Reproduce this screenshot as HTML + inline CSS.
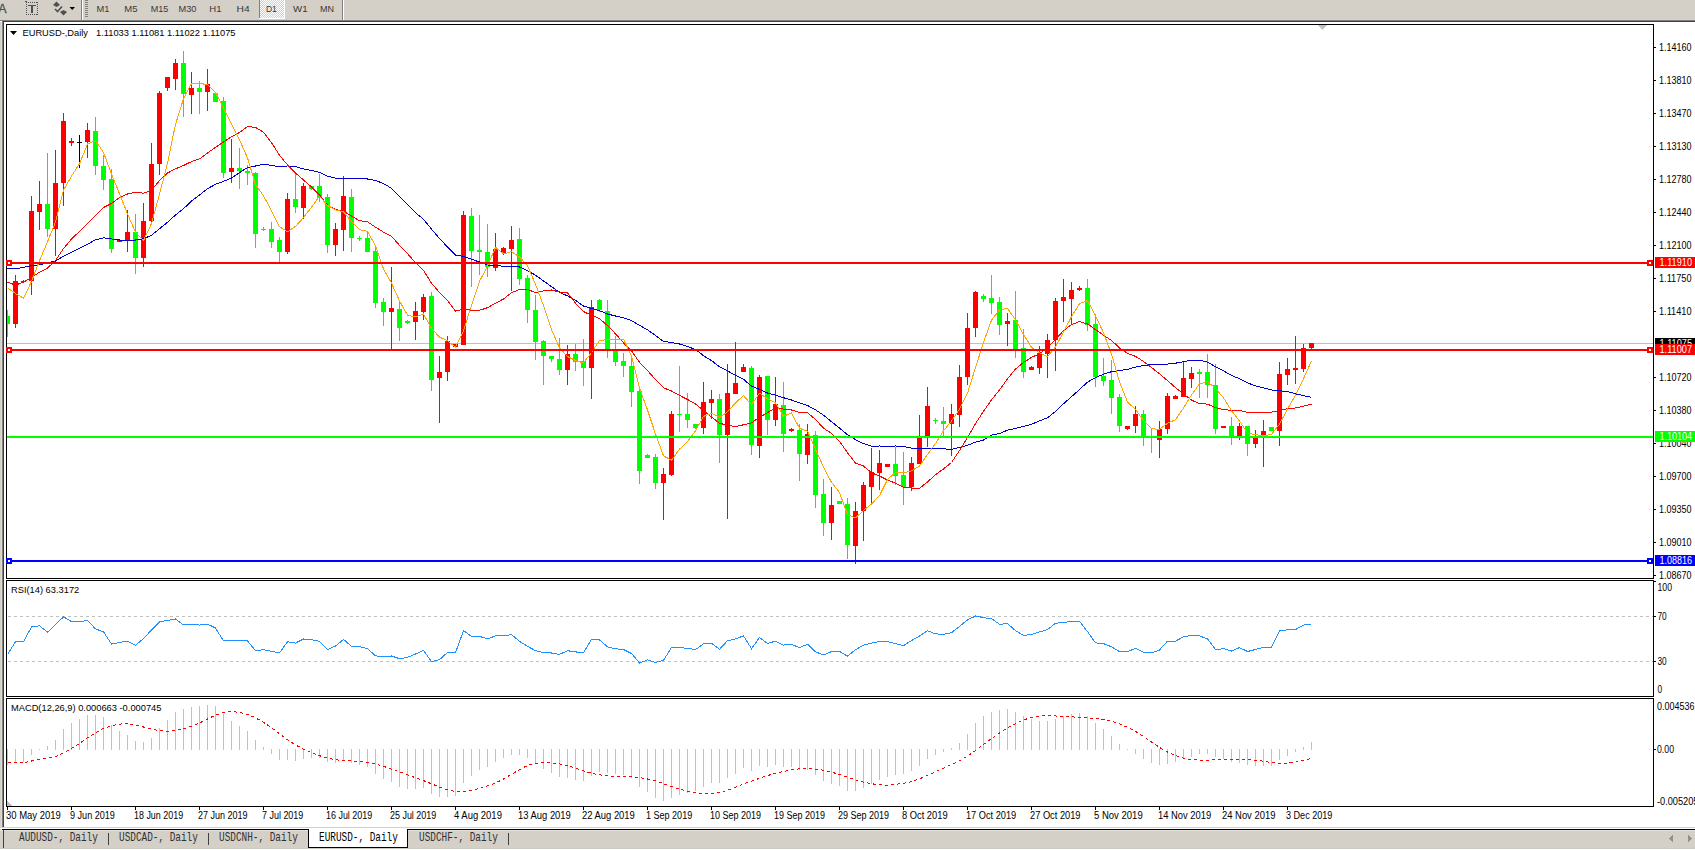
<!DOCTYPE html>
<html><head><meta charset="utf-8"><style>
html,body{margin:0;padding:0;background:#fff;}
#root{position:relative;width:1695px;height:850px;overflow:hidden;background:#fff;}
svg{position:absolute;left:0;top:0;}
text{font-family:"Liberation Sans",sans-serif;}
</style></head><body><div id="root">
<svg width="1695" height="850" viewBox="0 0 1695 850">
<g shape-rendering="crispEdges">
<rect x="0" y="0" width="1695" height="20" fill="#d4d0c8"/>
<rect x="0" y="20" width="1695" height="1" fill="#808080"/>
<rect x="0" y="21" width="1695" height="1" fill="#404040"/>
<rect x="0" y="21" width="2" height="1" fill="#ffffff"/>
<rect x="0" y="22" width="2" height="806" fill="#d4d0c8"/>
<rect x="1" y="22" width="1" height="806" fill="#dedad3"/>
<rect x="2" y="20" width="1" height="808" fill="#808080"/>
<rect x="3" y="21" width="1" height="807" fill="#404040"/>
<rect x="0" y="827" width="1695" height="1" fill="#d4d0c8"/>
<rect x="0" y="828" width="1695" height="1" fill="#ffffff"/>
<rect x="0" y="829" width="1695" height="1" fill="#000000"/>
<rect x="0" y="830" width="1695" height="18" fill="#d4d0c8"/>
<rect x="0" y="830" width="1695" height="1" fill="#e6e3de"/>
<rect x="0" y="848" width="1695" height="1" fill="#cdc9c2"/>
<rect x="0" y="849" width="1695" height="1" fill="#ffffff"/>
<rect x="1669" y="838" width="1" height="1" fill="#909090"/>
<rect x="1691" y="838" width="1" height="1" fill="#909090"/>
<rect x="1670" y="837" width="1" height="3" fill="#909090"/>
<rect x="1690" y="837" width="1" height="3" fill="#909090"/>
<rect x="1671" y="836" width="1" height="5" fill="#909090"/>
<rect x="1689" y="836" width="1" height="5" fill="#909090"/>
<rect x="1672" y="835" width="1" height="7" fill="#909090"/>
<rect x="1688" y="835" width="1" height="7" fill="#909090"/>
<rect x="3" y="830" width="1" height="18" fill="#404040"/>
<rect x="0" y="829" width="2" height="1" fill="#d4d0c8"/>
<rect x="308" y="829" width="100" height="19" fill="#000"/>
<rect x="309" y="829" width="98" height="18" fill="#fff"/>
<rect x="108" y="833" width="1" height="12" fill="#404040"/>
<rect x="208" y="833" width="1" height="12" fill="#404040"/>
<rect x="508" y="833" width="1" height="12" fill="#404040"/>
<rect x="6" y="24" width="1648" height="1" fill="#000"/>
<rect x="6" y="578" width="1648" height="1" fill="#000"/>
<rect x="6" y="24" width="1" height="555" fill="#000"/>
<rect x="1653" y="24" width="1" height="555" fill="#000"/>
<rect x="6" y="580" width="1648" height="1" fill="#000"/>
<rect x="6" y="696" width="1648" height="1" fill="#000"/>
<rect x="6" y="580" width="1" height="117" fill="#000"/>
<rect x="1653" y="580" width="1" height="117" fill="#000"/>
<rect x="6" y="698" width="1648" height="1" fill="#000"/>
<rect x="6" y="806" width="1648" height="1" fill="#000"/>
<rect x="6" y="698" width="1" height="109" fill="#000"/>
<rect x="1653" y="698" width="1" height="109" fill="#000"/>
</g>
<defs><clipPath id="cm"><rect x="7" y="25" width="1646" height="553"/></clipPath><clipPath id="cr"><rect x="7" y="581" width="1646" height="115"/></clipPath><clipPath id="cd"><rect x="7" y="699" width="1646" height="107"/></clipPath></defs>
<g clip-path="url(#cm)" shape-rendering="crispEdges">
<rect x="7" y="343" width="1646" height="1" fill="#c0c0c0"/>
<rect x="7" y="310" width="1" height="27" fill="#00ff00"/>
<rect x="5" y="316" width="5" height="8" fill="#00ff00"/>
<rect x="15" y="275" width="1" height="53" fill="#ff0000"/>
<rect x="13" y="281" width="5" height="43" fill="#ff0000"/>
<rect x="23" y="280" width="1" height="3" fill="#ff0000"/>
<rect x="21" y="281" width="5" height="1" fill="#ff0000"/>
<rect x="31" y="196" width="1" height="99" fill="#ff0000"/>
<rect x="29" y="211" width="5" height="70" fill="#ff0000"/>
<rect x="39" y="181" width="1" height="49" fill="#ff0000"/>
<rect x="37" y="204" width="5" height="8" fill="#ff0000"/>
<rect x="47" y="153" width="1" height="84" fill="#00ff00"/>
<rect x="45" y="204" width="5" height="25" fill="#00ff00"/>
<rect x="55" y="150" width="1" height="106" fill="#ff0000"/>
<rect x="53" y="183" width="5" height="46" fill="#ff0000"/>
<rect x="63" y="113" width="1" height="93" fill="#ff0000"/>
<rect x="61" y="121" width="5" height="62" fill="#ff0000"/>
<rect x="71" y="138" width="1" height="8" fill="#ff0000"/>
<rect x="69" y="141" width="5" height="2" fill="#ff0000"/>
<rect x="79" y="135" width="1" height="33" fill="#000000"/>
<rect x="77" y="142" width="5" height="1" fill="#000000"/>
<rect x="87" y="123" width="1" height="35" fill="#ff0000"/>
<rect x="85" y="130" width="5" height="12" fill="#ff0000"/>
<rect x="95" y="117" width="1" height="58" fill="#00ff00"/>
<rect x="93" y="131" width="5" height="35" fill="#00ff00"/>
<rect x="103" y="155" width="1" height="35" fill="#00ff00"/>
<rect x="101" y="166" width="5" height="14" fill="#00ff00"/>
<rect x="111" y="169" width="1" height="84" fill="#00ff00"/>
<rect x="109" y="179" width="5" height="70" fill="#00ff00"/>
<rect x="119" y="240" width="1" height="2" fill="#ff0000"/>
<rect x="117" y="240" width="5" height="2" fill="#ff0000"/>
<rect x="127" y="210" width="1" height="42" fill="#ff0000"/>
<rect x="125" y="232" width="5" height="8" fill="#ff0000"/>
<rect x="135" y="214" width="1" height="60" fill="#00ff00"/>
<rect x="133" y="232" width="5" height="26" fill="#00ff00"/>
<rect x="143" y="203" width="1" height="64" fill="#ff0000"/>
<rect x="141" y="221" width="5" height="37" fill="#ff0000"/>
<rect x="151" y="143" width="1" height="79" fill="#ff0000"/>
<rect x="149" y="164" width="5" height="57" fill="#ff0000"/>
<rect x="159" y="91" width="1" height="84" fill="#ff0000"/>
<rect x="157" y="93" width="5" height="71" fill="#ff0000"/>
<rect x="167" y="77" width="1" height="14" fill="#ff0000"/>
<rect x="165" y="77" width="5" height="11" fill="#ff0000"/>
<rect x="175" y="59" width="1" height="31" fill="#ff0000"/>
<rect x="173" y="63" width="5" height="16" fill="#ff0000"/>
<rect x="183" y="51" width="1" height="66" fill="#00ff00"/>
<rect x="181" y="63" width="5" height="31" fill="#00ff00"/>
<rect x="191" y="72" width="1" height="42" fill="#ff0000"/>
<rect x="189" y="88" width="5" height="7" fill="#ff0000"/>
<rect x="199" y="81" width="1" height="33" fill="#00ff00"/>
<rect x="197" y="88" width="5" height="4" fill="#00ff00"/>
<rect x="207" y="69" width="1" height="42" fill="#ff0000"/>
<rect x="205" y="84" width="5" height="8" fill="#ff0000"/>
<rect x="215" y="92" width="1" height="10" fill="#00ff00"/>
<rect x="213" y="93" width="5" height="9" fill="#00ff00"/>
<rect x="223" y="97" width="1" height="81" fill="#00ff00"/>
<rect x="221" y="101" width="5" height="72" fill="#00ff00"/>
<rect x="231" y="139" width="1" height="44" fill="#ff0000"/>
<rect x="229" y="168" width="5" height="4" fill="#ff0000"/>
<rect x="239" y="148" width="1" height="41" fill="#00ff00"/>
<rect x="237" y="168" width="5" height="3" fill="#00ff00"/>
<rect x="247" y="165" width="1" height="20" fill="#00ff00"/>
<rect x="245" y="171" width="5" height="2" fill="#00ff00"/>
<rect x="255" y="172" width="1" height="76" fill="#00ff00"/>
<rect x="253" y="173" width="5" height="61" fill="#00ff00"/>
<rect x="263" y="227" width="1" height="4" fill="#00ff00"/>
<rect x="261" y="229" width="5" height="1" fill="#00ff00"/>
<rect x="271" y="222" width="1" height="26" fill="#00ff00"/>
<rect x="269" y="229" width="5" height="13" fill="#00ff00"/>
<rect x="279" y="237" width="1" height="25" fill="#00ff00"/>
<rect x="277" y="240" width="5" height="12" fill="#00ff00"/>
<rect x="287" y="193" width="1" height="61" fill="#ff0000"/>
<rect x="285" y="199" width="5" height="53" fill="#ff0000"/>
<rect x="295" y="173" width="1" height="40" fill="#00ff00"/>
<rect x="293" y="199" width="5" height="8" fill="#00ff00"/>
<rect x="303" y="183" width="1" height="36" fill="#ff0000"/>
<rect x="301" y="186" width="5" height="22" fill="#ff0000"/>
<rect x="311" y="186" width="1" height="4" fill="#00ff00"/>
<rect x="309" y="186" width="5" height="3" fill="#00ff00"/>
<rect x="319" y="174" width="1" height="28" fill="#00ff00"/>
<rect x="317" y="186" width="5" height="12" fill="#00ff00"/>
<rect x="327" y="194" width="1" height="59" fill="#00ff00"/>
<rect x="325" y="197" width="5" height="48" fill="#00ff00"/>
<rect x="335" y="223" width="1" height="33" fill="#ff0000"/>
<rect x="333" y="229" width="5" height="16" fill="#ff0000"/>
<rect x="343" y="176" width="1" height="75" fill="#ff0000"/>
<rect x="341" y="196" width="5" height="34" fill="#ff0000"/>
<rect x="351" y="189" width="1" height="63" fill="#00ff00"/>
<rect x="349" y="197" width="5" height="41" fill="#00ff00"/>
<rect x="359" y="236" width="1" height="5" fill="#00ff00"/>
<rect x="357" y="238" width="5" height="1" fill="#00ff00"/>
<rect x="367" y="231" width="1" height="21" fill="#00ff00"/>
<rect x="365" y="238" width="5" height="14" fill="#00ff00"/>
<rect x="375" y="247" width="1" height="61" fill="#00ff00"/>
<rect x="373" y="251" width="5" height="52" fill="#00ff00"/>
<rect x="383" y="298" width="1" height="28" fill="#00ff00"/>
<rect x="381" y="302" width="5" height="10" fill="#00ff00"/>
<rect x="391" y="267" width="1" height="83" fill="#ff0000"/>
<rect x="389" y="308" width="5" height="4" fill="#ff0000"/>
<rect x="399" y="302" width="1" height="39" fill="#00ff00"/>
<rect x="397" y="309" width="5" height="19" fill="#00ff00"/>
<rect x="407" y="320" width="1" height="4" fill="#00ff00"/>
<rect x="405" y="321" width="5" height="2" fill="#00ff00"/>
<rect x="415" y="302" width="1" height="38" fill="#ff0000"/>
<rect x="413" y="311" width="5" height="11" fill="#ff0000"/>
<rect x="423" y="294" width="1" height="26" fill="#ff0000"/>
<rect x="421" y="297" width="5" height="15" fill="#ff0000"/>
<rect x="431" y="292" width="1" height="99" fill="#00ff00"/>
<rect x="429" y="296" width="5" height="84" fill="#00ff00"/>
<rect x="439" y="356" width="1" height="67" fill="#ff0000"/>
<rect x="437" y="372" width="5" height="6" fill="#ff0000"/>
<rect x="447" y="336" width="1" height="45" fill="#ff0000"/>
<rect x="445" y="341" width="5" height="31" fill="#ff0000"/>
<rect x="455" y="344" width="1" height="3" fill="#ff0000"/>
<rect x="453" y="344" width="5" height="3" fill="#ff0000"/>
<rect x="463" y="211" width="1" height="134" fill="#ff0000"/>
<rect x="461" y="215" width="5" height="130" fill="#ff0000"/>
<rect x="471" y="208" width="1" height="79" fill="#00ff00"/>
<rect x="469" y="216" width="5" height="35" fill="#00ff00"/>
<rect x="479" y="215" width="1" height="60" fill="#00ff00"/>
<rect x="477" y="250" width="5" height="2" fill="#00ff00"/>
<rect x="487" y="224" width="1" height="53" fill="#00ff00"/>
<rect x="485" y="252" width="5" height="15" fill="#00ff00"/>
<rect x="495" y="233" width="1" height="38" fill="#ff0000"/>
<rect x="493" y="249" width="5" height="19" fill="#ff0000"/>
<rect x="503" y="247" width="1" height="8" fill="#ff0000"/>
<rect x="501" y="248" width="5" height="5" fill="#ff0000"/>
<rect x="511" y="226" width="1" height="65" fill="#ff0000"/>
<rect x="509" y="240" width="5" height="9" fill="#ff0000"/>
<rect x="519" y="228" width="1" height="57" fill="#00ff00"/>
<rect x="517" y="239" width="5" height="40" fill="#00ff00"/>
<rect x="527" y="275" width="1" height="48" fill="#00ff00"/>
<rect x="525" y="278" width="5" height="32" fill="#00ff00"/>
<rect x="535" y="295" width="1" height="65" fill="#00ff00"/>
<rect x="533" y="310" width="5" height="32" fill="#00ff00"/>
<rect x="543" y="340" width="1" height="45" fill="#00ff00"/>
<rect x="541" y="341" width="5" height="15" fill="#00ff00"/>
<rect x="551" y="356" width="1" height="6" fill="#00ff00"/>
<rect x="549" y="356" width="5" height="3" fill="#00ff00"/>
<rect x="559" y="338" width="1" height="37" fill="#00ff00"/>
<rect x="557" y="359" width="5" height="11" fill="#00ff00"/>
<rect x="567" y="345" width="1" height="40" fill="#ff0000"/>
<rect x="565" y="354" width="5" height="16" fill="#ff0000"/>
<rect x="575" y="344" width="1" height="27" fill="#00ff00"/>
<rect x="573" y="354" width="5" height="8" fill="#00ff00"/>
<rect x="583" y="339" width="1" height="47" fill="#00ff00"/>
<rect x="581" y="361" width="5" height="7" fill="#00ff00"/>
<rect x="591" y="300" width="1" height="99" fill="#ff0000"/>
<rect x="589" y="307" width="5" height="61" fill="#ff0000"/>
<rect x="599" y="299" width="1" height="13" fill="#00ff00"/>
<rect x="597" y="300" width="5" height="10" fill="#00ff00"/>
<rect x="607" y="300" width="1" height="58" fill="#00ff00"/>
<rect x="605" y="311" width="5" height="38" fill="#00ff00"/>
<rect x="615" y="336" width="1" height="30" fill="#00ff00"/>
<rect x="613" y="350" width="5" height="12" fill="#00ff00"/>
<rect x="623" y="353" width="1" height="24" fill="#00ff00"/>
<rect x="621" y="361" width="5" height="5" fill="#00ff00"/>
<rect x="631" y="357" width="1" height="50" fill="#00ff00"/>
<rect x="629" y="366" width="5" height="26" fill="#00ff00"/>
<rect x="639" y="390" width="1" height="94" fill="#00ff00"/>
<rect x="637" y="391" width="5" height="80" fill="#00ff00"/>
<rect x="647" y="454" width="1" height="4" fill="#00ff00"/>
<rect x="645" y="455" width="5" height="3" fill="#00ff00"/>
<rect x="655" y="454" width="1" height="35" fill="#00ff00"/>
<rect x="653" y="457" width="5" height="26" fill="#00ff00"/>
<rect x="663" y="468" width="1" height="52" fill="#ff0000"/>
<rect x="661" y="474" width="5" height="9" fill="#ff0000"/>
<rect x="671" y="411" width="1" height="65" fill="#ff0000"/>
<rect x="669" y="414" width="5" height="61" fill="#ff0000"/>
<rect x="679" y="366" width="1" height="66" fill="#00ff00"/>
<rect x="677" y="414" width="5" height="1" fill="#00ff00"/>
<rect x="687" y="393" width="1" height="35" fill="#00ff00"/>
<rect x="685" y="414" width="5" height="6" fill="#00ff00"/>
<rect x="695" y="424" width="1" height="5" fill="#00ff00"/>
<rect x="693" y="424" width="5" height="4" fill="#00ff00"/>
<rect x="703" y="382" width="1" height="52" fill="#ff0000"/>
<rect x="701" y="402" width="5" height="26" fill="#ff0000"/>
<rect x="711" y="390" width="1" height="29" fill="#ff0000"/>
<rect x="709" y="399" width="5" height="4" fill="#ff0000"/>
<rect x="719" y="394" width="1" height="69" fill="#00ff00"/>
<rect x="717" y="399" width="5" height="36" fill="#00ff00"/>
<rect x="727" y="364" width="1" height="155" fill="#ff0000"/>
<rect x="725" y="393" width="5" height="42" fill="#ff0000"/>
<rect x="735" y="342" width="1" height="52" fill="#ff0000"/>
<rect x="733" y="383" width="5" height="11" fill="#ff0000"/>
<rect x="743" y="364" width="1" height="8" fill="#ff0000"/>
<rect x="741" y="367" width="5" height="5" fill="#ff0000"/>
<rect x="751" y="366" width="1" height="89" fill="#00ff00"/>
<rect x="749" y="368" width="5" height="77" fill="#00ff00"/>
<rect x="759" y="375" width="1" height="83" fill="#ff0000"/>
<rect x="757" y="377" width="5" height="69" fill="#ff0000"/>
<rect x="767" y="376" width="1" height="59" fill="#00ff00"/>
<rect x="765" y="376" width="5" height="44" fill="#00ff00"/>
<rect x="775" y="377" width="1" height="49" fill="#ff0000"/>
<rect x="773" y="404" width="5" height="16" fill="#ff0000"/>
<rect x="783" y="382" width="1" height="70" fill="#00ff00"/>
<rect x="781" y="405" width="5" height="29" fill="#00ff00"/>
<rect x="791" y="428" width="1" height="4" fill="#ff0000"/>
<rect x="789" y="429" width="5" height="2" fill="#ff0000"/>
<rect x="799" y="424" width="1" height="57" fill="#00ff00"/>
<rect x="797" y="430" width="5" height="24" fill="#00ff00"/>
<rect x="807" y="424" width="1" height="40" fill="#ff0000"/>
<rect x="805" y="434" width="5" height="21" fill="#ff0000"/>
<rect x="815" y="431" width="1" height="77" fill="#00ff00"/>
<rect x="813" y="435" width="5" height="60" fill="#00ff00"/>
<rect x="823" y="479" width="1" height="57" fill="#00ff00"/>
<rect x="821" y="494" width="5" height="29" fill="#00ff00"/>
<rect x="831" y="487" width="1" height="53" fill="#ff0000"/>
<rect x="829" y="505" width="5" height="18" fill="#ff0000"/>
<rect x="839" y="501" width="1" height="3" fill="#00ff00"/>
<rect x="837" y="501" width="5" height="3" fill="#00ff00"/>
<rect x="847" y="498" width="1" height="61" fill="#00ff00"/>
<rect x="845" y="504" width="5" height="41" fill="#00ff00"/>
<rect x="855" y="502" width="1" height="62" fill="#ff0000"/>
<rect x="853" y="511" width="5" height="35" fill="#ff0000"/>
<rect x="863" y="482" width="1" height="59" fill="#ff0000"/>
<rect x="861" y="485" width="5" height="26" fill="#ff0000"/>
<rect x="871" y="448" width="1" height="57" fill="#ff0000"/>
<rect x="869" y="472" width="5" height="15" fill="#ff0000"/>
<rect x="879" y="450" width="1" height="40" fill="#ff0000"/>
<rect x="877" y="463" width="5" height="10" fill="#ff0000"/>
<rect x="887" y="464" width="1" height="3" fill="#ff0000"/>
<rect x="885" y="464" width="5" height="3" fill="#ff0000"/>
<rect x="895" y="447" width="1" height="38" fill="#00ff00"/>
<rect x="893" y="464" width="5" height="12" fill="#00ff00"/>
<rect x="903" y="452" width="1" height="53" fill="#00ff00"/>
<rect x="901" y="475" width="5" height="12" fill="#00ff00"/>
<rect x="911" y="457" width="1" height="34" fill="#ff0000"/>
<rect x="909" y="463" width="5" height="24" fill="#ff0000"/>
<rect x="919" y="415" width="1" height="49" fill="#ff0000"/>
<rect x="917" y="438" width="5" height="26" fill="#ff0000"/>
<rect x="927" y="387" width="1" height="60" fill="#ff0000"/>
<rect x="925" y="406" width="5" height="30" fill="#ff0000"/>
<rect x="935" y="418" width="1" height="6" fill="#00ff00"/>
<rect x="933" y="420" width="5" height="1" fill="#00ff00"/>
<rect x="943" y="407" width="1" height="29" fill="#00ff00"/>
<rect x="941" y="421" width="5" height="3" fill="#00ff00"/>
<rect x="951" y="404" width="1" height="52" fill="#ff0000"/>
<rect x="949" y="414" width="5" height="10" fill="#ff0000"/>
<rect x="959" y="365" width="1" height="62" fill="#ff0000"/>
<rect x="957" y="377" width="5" height="38" fill="#ff0000"/>
<rect x="967" y="313" width="1" height="72" fill="#ff0000"/>
<rect x="965" y="328" width="5" height="49" fill="#ff0000"/>
<rect x="975" y="291" width="1" height="46" fill="#ff0000"/>
<rect x="973" y="292" width="5" height="36" fill="#ff0000"/>
<rect x="983" y="294" width="1" height="8" fill="#00ff00"/>
<rect x="981" y="296" width="5" height="3" fill="#00ff00"/>
<rect x="991" y="275" width="1" height="39" fill="#00ff00"/>
<rect x="989" y="298" width="5" height="5" fill="#00ff00"/>
<rect x="999" y="297" width="1" height="38" fill="#00ff00"/>
<rect x="997" y="302" width="5" height="23" fill="#00ff00"/>
<rect x="1007" y="313" width="1" height="33" fill="#ff0000"/>
<rect x="1005" y="321" width="5" height="3" fill="#ff0000"/>
<rect x="1015" y="291" width="1" height="67" fill="#00ff00"/>
<rect x="1013" y="320" width="5" height="29" fill="#00ff00"/>
<rect x="1023" y="329" width="1" height="49" fill="#00ff00"/>
<rect x="1021" y="348" width="5" height="24" fill="#00ff00"/>
<rect x="1031" y="366" width="1" height="4" fill="#ff0000"/>
<rect x="1029" y="367" width="5" height="3" fill="#ff0000"/>
<rect x="1039" y="346" width="1" height="28" fill="#ff0000"/>
<rect x="1037" y="353" width="5" height="15" fill="#ff0000"/>
<rect x="1047" y="334" width="1" height="44" fill="#ff0000"/>
<rect x="1045" y="340" width="5" height="14" fill="#ff0000"/>
<rect x="1055" y="298" width="1" height="73" fill="#ff0000"/>
<rect x="1053" y="301" width="5" height="39" fill="#ff0000"/>
<rect x="1063" y="279" width="1" height="43" fill="#ff0000"/>
<rect x="1061" y="297" width="5" height="4" fill="#ff0000"/>
<rect x="1071" y="282" width="1" height="43" fill="#ff0000"/>
<rect x="1069" y="290" width="5" height="9" fill="#ff0000"/>
<rect x="1079" y="286" width="1" height="5" fill="#ff0000"/>
<rect x="1077" y="288" width="5" height="2" fill="#ff0000"/>
<rect x="1087" y="279" width="1" height="52" fill="#00ff00"/>
<rect x="1085" y="288" width="5" height="37" fill="#00ff00"/>
<rect x="1095" y="314" width="1" height="73" fill="#00ff00"/>
<rect x="1093" y="324" width="5" height="53" fill="#00ff00"/>
<rect x="1103" y="358" width="1" height="28" fill="#00ff00"/>
<rect x="1101" y="376" width="5" height="5" fill="#00ff00"/>
<rect x="1111" y="360" width="1" height="54" fill="#00ff00"/>
<rect x="1109" y="380" width="5" height="18" fill="#00ff00"/>
<rect x="1119" y="394" width="1" height="38" fill="#00ff00"/>
<rect x="1117" y="397" width="5" height="29" fill="#00ff00"/>
<rect x="1127" y="426" width="1" height="4" fill="#ff0000"/>
<rect x="1125" y="426" width="5" height="3" fill="#ff0000"/>
<rect x="1135" y="406" width="1" height="27" fill="#ff0000"/>
<rect x="1133" y="414" width="5" height="12" fill="#ff0000"/>
<rect x="1143" y="410" width="1" height="36" fill="#00ff00"/>
<rect x="1141" y="414" width="5" height="22" fill="#00ff00"/>
<rect x="1151" y="428" width="1" height="25" fill="#00ff00"/>
<rect x="1149" y="436" width="5" height="2" fill="#00ff00"/>
<rect x="1159" y="421" width="1" height="37" fill="#ff0000"/>
<rect x="1157" y="429" width="5" height="11" fill="#ff0000"/>
<rect x="1167" y="393" width="1" height="41" fill="#ff0000"/>
<rect x="1165" y="396" width="5" height="33" fill="#ff0000"/>
<rect x="1175" y="395" width="1" height="4" fill="#ff0000"/>
<rect x="1173" y="396" width="5" height="3" fill="#ff0000"/>
<rect x="1183" y="362" width="1" height="35" fill="#ff0000"/>
<rect x="1181" y="378" width="5" height="19" fill="#ff0000"/>
<rect x="1191" y="367" width="1" height="21" fill="#ff0000"/>
<rect x="1189" y="373" width="5" height="6" fill="#ff0000"/>
<rect x="1199" y="369" width="1" height="29" fill="#00ff00"/>
<rect x="1197" y="372" width="5" height="2" fill="#00ff00"/>
<rect x="1207" y="354" width="1" height="44" fill="#00ff00"/>
<rect x="1205" y="372" width="5" height="13" fill="#00ff00"/>
<rect x="1215" y="364" width="1" height="70" fill="#00ff00"/>
<rect x="1213" y="385" width="5" height="44" fill="#00ff00"/>
<rect x="1223" y="426" width="1" height="2" fill="#ff0000"/>
<rect x="1221" y="426" width="5" height="2" fill="#ff0000"/>
<rect x="1231" y="417" width="1" height="28" fill="#00ff00"/>
<rect x="1229" y="426" width="5" height="11" fill="#00ff00"/>
<rect x="1239" y="423" width="1" height="17" fill="#ff0000"/>
<rect x="1237" y="426" width="5" height="10" fill="#ff0000"/>
<rect x="1247" y="426" width="1" height="30" fill="#00ff00"/>
<rect x="1245" y="426" width="5" height="18" fill="#00ff00"/>
<rect x="1255" y="430" width="1" height="18" fill="#ff0000"/>
<rect x="1253" y="438" width="5" height="6" fill="#ff0000"/>
<rect x="1263" y="420" width="1" height="47" fill="#ff0000"/>
<rect x="1261" y="431" width="5" height="4" fill="#ff0000"/>
<rect x="1271" y="427" width="1" height="4" fill="#00ff00"/>
<rect x="1269" y="427" width="5" height="4" fill="#00ff00"/>
<rect x="1279" y="362" width="1" height="84" fill="#ff0000"/>
<rect x="1277" y="374" width="5" height="57" fill="#ff0000"/>
<rect x="1287" y="358" width="1" height="27" fill="#ff0000"/>
<rect x="1285" y="369" width="5" height="6" fill="#ff0000"/>
<rect x="1295" y="336" width="1" height="48" fill="#ff0000"/>
<rect x="1293" y="368" width="5" height="2" fill="#ff0000"/>
<rect x="1303" y="344" width="1" height="28" fill="#ff0000"/>
<rect x="1301" y="348" width="5" height="21" fill="#ff0000"/>
<rect x="1311" y="343" width="1" height="6" fill="#ff0000"/>
<rect x="1309" y="343" width="5" height="5" fill="#ff0000"/>
</g>
<g clip-path="url(#cm)" fill="none" stroke-width="1" shape-rendering="crispEdges">
<polyline points="7.5,269.0 15.5,268.8 23.5,267.4 31.5,265.7 39.5,264.7 47.5,263.0 55.5,261.0 63.5,256.1 71.5,252.2 79.5,248.2 87.5,244.2 95.5,239.8 103.5,237.8 111.5,238.9 119.5,240.0 127.5,240.0 135.5,240.0 143.5,238.7 151.5,235.3 159.5,228.7 167.5,222.3 175.5,215.0 183.5,208.7 191.5,201.1 199.5,195.0 207.5,188.7 215.5,184.3 223.5,181.3 231.5,178.1 239.5,172.6 247.5,167.6 255.5,166.0 263.5,164.3 271.5,165.3 279.5,166.9 287.5,165.9 295.5,166.7 303.5,168.9 311.5,170.5 319.5,172.3 327.5,176.2 335.5,178.2 343.5,178.8 351.5,178.4 359.5,178.4 367.5,179.0 375.5,180.5 383.5,183.5 391.5,188.3 399.5,196.2 407.5,204.4 415.5,212.6 423.5,219.4 431.5,229.1 439.5,238.5 447.5,247.0 455.5,255.1 463.5,256.5 471.5,259.3 479.5,262.0 487.5,265.1 495.5,265.6 503.5,266.2 511.5,266.1 519.5,267.0 527.5,270.7 535.5,275.2 543.5,280.9 551.5,286.6 559.5,292.3 567.5,295.9 575.5,300.3 583.5,306.1 591.5,308.4 599.5,310.7 607.5,314.0 615.5,316.0 623.5,317.8 631.5,320.6 639.5,325.3 647.5,329.8 655.5,335.5 663.5,341.4 671.5,342.5 679.5,344.0 687.5,346.6 695.5,349.4 703.5,355.7 711.5,360.6 719.5,366.7 727.5,370.9 735.5,375.3 743.5,379.3 751.5,386.1 759.5,389.4 767.5,393.0 775.5,395.1 783.5,397.7 791.5,400.0 799.5,402.8 807.5,405.5 815.5,409.9 823.5,415.1 831.5,421.7 839.5,428.1 847.5,434.7 855.5,439.6 863.5,443.6 871.5,446.3 879.5,446.0 887.5,446.2 895.5,446.0 903.5,446.4 911.5,448.1 919.5,448.8 927.5,448.4 935.5,448.1 943.5,448.8 951.5,449.4 959.5,447.4 967.5,445.3 975.5,442.2 983.5,440.0 991.5,435.2 999.5,433.5 1007.5,430.2 1015.5,428.4 1023.5,426.4 1031.5,424.3 1039.5,420.9 1047.5,417.8 1055.5,411.4 1063.5,403.8 1071.5,396.7 1079.5,389.5 1087.5,382.1 1095.5,377.7 1103.5,374.2 1111.5,371.7 1119.5,370.5 1127.5,369.3 1135.5,367.2 1143.5,365.5 1151.5,364.7 1159.5,364.4 1167.5,364.1 1175.5,363.2 1183.5,361.7 1191.5,360.3 1199.5,360.2 1207.5,362.1 1215.5,366.7 1223.5,370.9 1231.5,375.4 1239.5,378.8 1247.5,382.9 1255.5,385.8 1263.5,387.8 1271.5,390.0 1279.5,390.7 1287.5,391.6 1295.5,393.8 1303.5,395.6 1311.5,397.3" stroke="#0000cd"/>
<polyline points="7.5,282.0 15.5,285.2 23.5,282.0 31.5,277.5 39.5,272.1 47.5,268.1 55.5,260.5 63.5,248.6 71.5,238.9 79.5,231.4 87.5,223.4 95.5,215.4 103.5,207.5 111.5,203.5 119.5,197.5 127.5,194.0 135.5,192.4 143.5,193.1 151.5,190.3 159.5,180.6 167.5,173.0 175.5,168.9 183.5,165.5 191.5,161.6 199.5,158.9 207.5,153.0 215.5,147.4 223.5,142.0 231.5,136.8 239.5,132.5 247.5,126.5 255.5,127.4 263.5,132.1 271.5,142.7 279.5,155.2 287.5,164.9 295.5,173.0 303.5,180.0 311.5,186.9 319.5,195.0 327.5,205.2 335.5,209.3 343.5,211.3 351.5,216.0 359.5,220.7 367.5,221.9 375.5,227.1 383.5,232.1 391.5,236.2 399.5,245.4 407.5,253.7 415.5,262.6 423.5,270.3 431.5,283.3 439.5,292.4 447.5,300.4 455.5,311.0 463.5,309.4 471.5,310.2 479.5,310.3 487.5,307.7 495.5,303.2 503.5,299.0 511.5,292.7 519.5,289.5 527.5,289.4 535.5,292.6 543.5,290.9 551.5,290.0 559.5,292.0 567.5,292.7 575.5,303.2 583.5,311.5 591.5,315.4 599.5,318.5 607.5,325.7 615.5,333.8 623.5,342.8 631.5,350.8 639.5,362.3 647.5,370.6 655.5,379.6 663.5,387.8 671.5,391.0 679.5,395.4 687.5,399.5 695.5,403.9 703.5,410.7 711.5,417.0 719.5,423.2 727.5,425.4 735.5,426.6 743.5,424.8 751.5,423.0 759.5,417.2 767.5,412.7 775.5,407.7 783.5,409.1 791.5,410.0 799.5,412.4 807.5,412.8 815.5,419.4 823.5,428.2 831.5,433.3 839.5,441.2 847.5,452.8 855.5,463.1 863.5,466.0 871.5,472.8 879.5,475.9 887.5,480.1 895.5,483.2 903.5,487.4 911.5,488.0 919.5,488.3 927.5,482.0 935.5,474.7 943.5,468.9 951.5,462.5 959.5,450.5 967.5,437.5 975.5,423.7 983.5,411.3 991.5,399.9 999.5,389.9 1007.5,378.9 1015.5,369.0 1023.5,362.5 1031.5,357.4 1039.5,353.7 1047.5,347.9 1055.5,339.1 1063.5,330.7 1071.5,324.5 1079.5,321.6 1087.5,324.0 1095.5,329.6 1103.5,335.2 1111.5,340.4 1119.5,347.9 1127.5,353.4 1135.5,356.4 1143.5,361.4 1151.5,367.5 1159.5,373.8 1167.5,380.6 1175.5,387.7 1183.5,394.0 1191.5,400.1 1199.5,403.6 1207.5,404.1 1215.5,407.6 1223.5,409.6 1231.5,410.4 1239.5,410.4 1247.5,412.5 1255.5,412.6 1263.5,412.1 1271.5,412.2 1279.5,410.6 1287.5,408.7 1295.5,408.0 1303.5,406.2 1311.5,404.0" stroke="#ff0000"/>
<polyline points="7.5,287.8 15.5,293.5 23.5,298.1 31.5,281.5 39.5,260.7 47.5,241.7 55.5,222.1 63.5,190.1 71.5,176.1 79.5,163.8 87.5,144.0 95.5,140.7 103.5,152.5 111.5,174.0 119.5,193.6 127.5,213.9 135.5,232.2 143.5,240.5 151.5,223.5 159.5,194.2 167.5,163.2 175.5,124.3 183.5,98.8 191.5,83.5 199.5,83.3 207.5,84.7 215.5,92.4 223.5,108.2 231.5,124.2 239.5,140.0 247.5,157.8 255.5,184.4 263.5,195.9 271.5,210.6 279.5,226.7 287.5,231.8 295.5,226.4 303.5,217.6 311.5,207.1 319.5,196.3 327.5,205.4 335.5,209.8 343.5,211.8 351.5,221.5 359.5,229.8 367.5,231.2 375.5,245.9 383.5,269.0 391.5,283.1 399.5,300.9 407.5,315.2 415.5,316.9 423.5,314.0 431.5,328.3 439.5,337.1 447.5,340.7 455.5,347.3 463.5,330.9 471.5,305.2 479.5,281.2 487.5,266.3 495.5,247.3 503.5,253.9 511.5,251.7 519.5,257.0 527.5,265.6 535.5,284.2 543.5,305.7 551.5,329.6 559.5,347.8 567.5,356.5 575.5,360.5 583.5,362.9 591.5,352.5 599.5,340.5 607.5,339.6 615.5,339.6 623.5,339.2 631.5,356.1 639.5,388.2 647.5,409.9 655.5,434.1 663.5,455.8 671.5,460.3 679.5,449.2 687.5,441.6 695.5,430.8 703.5,416.4 711.5,413.4 719.5,417.3 727.5,411.9 735.5,402.8 743.5,395.7 751.5,404.8 759.5,393.2 767.5,398.6 775.5,402.8 783.5,416.2 791.5,413.0 799.5,428.3 807.5,431.1 815.5,449.3 823.5,467.1 831.5,482.4 839.5,492.4 847.5,514.7 855.5,517.9 863.5,510.5 871.5,503.9 879.5,495.7 887.5,479.4 895.5,472.4 903.5,472.8 911.5,470.9 919.5,466.0 927.5,454.5 935.5,443.5 943.5,430.8 951.5,421.1 959.5,408.9 967.5,393.3 975.5,367.5 983.5,342.5 991.5,320.2 999.5,309.8 1007.5,308.4 1015.5,319.8 1023.5,334.5 1031.5,347.2 1039.5,352.9 1047.5,356.7 1055.5,347.1 1063.5,332.0 1071.5,316.7 1079.5,303.7 1087.5,300.6 1095.5,315.8 1103.5,332.7 1111.5,354.2 1119.5,381.8 1127.5,402.1 1135.5,409.4 1143.5,420.6 1151.5,428.7 1159.5,429.4 1167.5,423.3 1175.5,419.7 1183.5,408.0 1191.5,394.9 1199.5,383.9 1207.5,381.7 1215.5,388.3 1223.5,397.9 1231.5,410.7 1239.5,421.1 1247.5,432.9 1255.5,434.7 1263.5,435.7 1271.5,434.5 1279.5,424.1 1287.5,409.1 1295.5,395.2 1303.5,378.6 1311.5,361.0" stroke="#ffa500"/>
</g>
<g clip-path="url(#cm)" shape-rendering="crispEdges">
<rect x="7" y="262" width="1646" height="2" fill="#ff0000"/>
<rect x="7" y="349" width="1646" height="2" fill="#ff0000"/>
<rect x="7" y="436" width="1646" height="2" fill="#00ff00"/>
<rect x="7" y="560" width="1646" height="2" fill="#0000ff"/>
</g>
<g shape-rendering="crispEdges">
<rect x="6" y="260" width="6" height="6" fill="#ff0000"/>
<rect x="8" y="262" width="2" height="2" fill="#fff"/>
<rect x="1647" y="260" width="6" height="6" fill="#ff0000"/>
<rect x="1649" y="262" width="2" height="2" fill="#fff"/>
<rect x="6" y="347" width="6" height="6" fill="#ff0000"/>
<rect x="8" y="349" width="2" height="2" fill="#fff"/>
<rect x="1647" y="347" width="6" height="6" fill="#ff0000"/>
<rect x="1649" y="349" width="2" height="2" fill="#fff"/>
<rect x="6" y="558" width="6" height="6" fill="#0000ff"/>
<rect x="8" y="560" width="2" height="2" fill="#fff"/>
<rect x="1647" y="558" width="6" height="6" fill="#0000ff"/>
<rect x="1649" y="560" width="2" height="2" fill="#fff"/>
</g>
<polygon points="1318,25 1327,25 1322.5,30" fill="#c0c0c0"/>
<g clip-path="url(#cr)" shape-rendering="crispEdges">
<line x1="8" y1="616.5" x2="1653" y2="616.5" stroke="#c0c0c0" stroke-dasharray="3,3"/>
<line x1="8" y1="661.5" x2="1653" y2="661.5" stroke="#c0c0c0" stroke-dasharray="3,3"/>
<polyline points="7.5,654.5 15.5,641.8 23.5,641.7 31.5,626.9 39.5,625.8 47.5,632.2 55.5,624.5 63.5,616.9 71.5,621.6 79.5,621.9 87.5,620.3 95.5,628.9 103.5,631.8 111.5,644.1 119.5,642.5 127.5,641.1 135.5,645.4 143.5,638.6 151.5,630.0 159.5,621.9 167.5,620.4 175.5,619.0 183.5,625.0 191.5,624.3 199.5,625.1 207.5,624.1 215.5,628.0 223.5,640.9 231.5,640.1 239.5,640.6 247.5,641.0 255.5,650.6 263.5,649.7 271.5,651.4 279.5,652.9 287.5,641.8 295.5,643.1 303.5,639.0 311.5,639.6 319.5,641.3 327.5,649.5 335.5,646.1 343.5,639.4 351.5,646.4 359.5,646.6 367.5,648.6 375.5,655.8 383.5,656.9 391.5,656.0 399.5,658.7 407.5,657.4 415.5,654.0 423.5,650.4 431.5,661.6 439.5,659.7 447.5,652.4 455.5,652.7 463.5,630.6 471.5,636.3 479.5,636.4 487.5,638.8 495.5,635.9 503.5,635.9 511.5,634.5 519.5,641.4 527.5,646.3 535.5,650.7 543.5,652.5 551.5,653.0 559.5,654.4 567.5,650.7 575.5,651.9 583.5,652.8 591.5,639.4 599.5,639.9 607.5,646.8 615.5,648.8 623.5,649.5 631.5,653.5 639.5,663.0 647.5,659.9 655.5,662.5 663.5,660.4 671.5,647.4 679.5,647.6 687.5,648.3 695.5,649.6 703.5,643.9 711.5,643.2 719.5,649.3 727.5,640.7 735.5,638.9 743.5,635.9 751.5,648.7 759.5,637.6 767.5,643.5 775.5,641.1 783.5,645.1 791.5,644.3 799.5,647.7 807.5,644.2 815.5,651.9 823.5,654.9 831.5,651.6 839.5,651.4 847.5,656.1 855.5,649.7 863.5,645.2 871.5,643.1 879.5,641.4 887.5,641.6 895.5,643.7 903.5,645.6 911.5,640.6 919.5,636.0 927.5,630.8 935.5,633.8 943.5,634.4 951.5,632.7 959.5,626.4 967.5,619.9 975.5,616.0 983.5,617.6 991.5,618.7 999.5,624.2 1007.5,623.7 1015.5,630.6 1023.5,635.5 1031.5,634.5 1039.5,631.9 1047.5,629.6 1055.5,623.2 1063.5,622.5 1071.5,621.5 1079.5,621.2 1087.5,631.6 1095.5,642.9 1103.5,643.6 1111.5,646.8 1119.5,651.6 1127.5,651.7 1135.5,648.4 1143.5,652.4 1151.5,652.8 1159.5,650.0 1167.5,641.1 1175.5,641.1 1183.5,636.8 1191.5,635.5 1199.5,635.8 1207.5,638.9 1215.5,649.6 1223.5,648.7 1231.5,651.0 1239.5,647.6 1247.5,651.5 1255.5,649.5 1263.5,647.2 1271.5,647.1 1279.5,630.9 1287.5,629.8 1295.5,629.6 1303.5,625.1 1311.5,623.9" fill="none" stroke="#1e90ff"/>
</g>
<g clip-path="url(#cd)" shape-rendering="crispEdges">
<rect x="7" y="749" width="1" height="16" fill="#c0c0c0"/>
<rect x="15" y="749" width="1" height="14" fill="#c0c0c0"/>
<rect x="23" y="749" width="1" height="13" fill="#c0c0c0"/>
<rect x="31" y="749" width="1" height="6" fill="#c0c0c0"/>
<rect x="39" y="749" width="1" height="1" fill="#c0c0c0"/>
<rect x="47" y="746" width="1" height="4" fill="#c0c0c0"/>
<rect x="55" y="740" width="1" height="10" fill="#c0c0c0"/>
<rect x="63" y="729" width="1" height="21" fill="#c0c0c0"/>
<rect x="71" y="723" width="1" height="27" fill="#c0c0c0"/>
<rect x="79" y="719" width="1" height="31" fill="#c0c0c0"/>
<rect x="87" y="715" width="1" height="35" fill="#c0c0c0"/>
<rect x="95" y="715" width="1" height="35" fill="#c0c0c0"/>
<rect x="103" y="717" width="1" height="33" fill="#c0c0c0"/>
<rect x="111" y="725" width="1" height="25" fill="#c0c0c0"/>
<rect x="119" y="731" width="1" height="19" fill="#c0c0c0"/>
<rect x="127" y="735" width="1" height="15" fill="#c0c0c0"/>
<rect x="135" y="741" width="1" height="9" fill="#c0c0c0"/>
<rect x="143" y="742" width="1" height="8" fill="#c0c0c0"/>
<rect x="151" y="738" width="1" height="12" fill="#c0c0c0"/>
<rect x="159" y="728" width="1" height="22" fill="#c0c0c0"/>
<rect x="167" y="720" width="1" height="30" fill="#c0c0c0"/>
<rect x="175" y="712" width="1" height="38" fill="#c0c0c0"/>
<rect x="183" y="709" width="1" height="41" fill="#c0c0c0"/>
<rect x="191" y="707" width="1" height="43" fill="#c0c0c0"/>
<rect x="199" y="706" width="1" height="44" fill="#c0c0c0"/>
<rect x="207" y="705" width="1" height="45" fill="#c0c0c0"/>
<rect x="215" y="706" width="1" height="44" fill="#c0c0c0"/>
<rect x="223" y="714" width="1" height="36" fill="#c0c0c0"/>
<rect x="231" y="721" width="1" height="29" fill="#c0c0c0"/>
<rect x="239" y="726" width="1" height="24" fill="#c0c0c0"/>
<rect x="247" y="731" width="1" height="19" fill="#c0c0c0"/>
<rect x="255" y="740" width="1" height="10" fill="#c0c0c0"/>
<rect x="263" y="747" width="1" height="3" fill="#c0c0c0"/>
<rect x="271" y="749" width="1" height="5" fill="#c0c0c0"/>
<rect x="279" y="749" width="1" height="11" fill="#c0c0c0"/>
<rect x="287" y="749" width="1" height="11" fill="#c0c0c0"/>
<rect x="295" y="749" width="1" height="12" fill="#c0c0c0"/>
<rect x="303" y="749" width="1" height="10" fill="#c0c0c0"/>
<rect x="311" y="749" width="1" height="9" fill="#c0c0c0"/>
<rect x="319" y="749" width="1" height="9" fill="#c0c0c0"/>
<rect x="327" y="749" width="1" height="13" fill="#c0c0c0"/>
<rect x="335" y="749" width="1" height="14" fill="#c0c0c0"/>
<rect x="343" y="749" width="1" height="12" fill="#c0c0c0"/>
<rect x="351" y="749" width="1" height="14" fill="#c0c0c0"/>
<rect x="359" y="749" width="1" height="16" fill="#c0c0c0"/>
<rect x="367" y="749" width="1" height="18" fill="#c0c0c0"/>
<rect x="375" y="749" width="1" height="25" fill="#c0c0c0"/>
<rect x="383" y="749" width="1" height="30" fill="#c0c0c0"/>
<rect x="391" y="749" width="1" height="33" fill="#c0c0c0"/>
<rect x="399" y="749" width="1" height="38" fill="#c0c0c0"/>
<rect x="407" y="749" width="1" height="40" fill="#c0c0c0"/>
<rect x="415" y="749" width="1" height="40" fill="#c0c0c0"/>
<rect x="423" y="749" width="1" height="39" fill="#c0c0c0"/>
<rect x="431" y="749" width="1" height="45" fill="#c0c0c0"/>
<rect x="439" y="749" width="1" height="48" fill="#c0c0c0"/>
<rect x="447" y="749" width="1" height="48" fill="#c0c0c0"/>
<rect x="455" y="749" width="1" height="47" fill="#c0c0c0"/>
<rect x="463" y="749" width="1" height="34" fill="#c0c0c0"/>
<rect x="471" y="749" width="1" height="27" fill="#c0c0c0"/>
<rect x="479" y="749" width="1" height="21" fill="#c0c0c0"/>
<rect x="487" y="749" width="1" height="18" fill="#c0c0c0"/>
<rect x="495" y="749" width="1" height="13" fill="#c0c0c0"/>
<rect x="503" y="749" width="1" height="9" fill="#c0c0c0"/>
<rect x="511" y="749" width="1" height="6" fill="#c0c0c0"/>
<rect x="519" y="749" width="1" height="6" fill="#c0c0c0"/>
<rect x="527" y="749" width="1" height="9" fill="#c0c0c0"/>
<rect x="535" y="749" width="1" height="15" fill="#c0c0c0"/>
<rect x="543" y="749" width="1" height="20" fill="#c0c0c0"/>
<rect x="551" y="749" width="1" height="24" fill="#c0c0c0"/>
<rect x="559" y="749" width="1" height="28" fill="#c0c0c0"/>
<rect x="567" y="749" width="1" height="29" fill="#c0c0c0"/>
<rect x="575" y="749" width="1" height="31" fill="#c0c0c0"/>
<rect x="583" y="749" width="1" height="32" fill="#c0c0c0"/>
<rect x="591" y="749" width="1" height="27" fill="#c0c0c0"/>
<rect x="599" y="749" width="1" height="23" fill="#c0c0c0"/>
<rect x="607" y="749" width="1" height="24" fill="#c0c0c0"/>
<rect x="615" y="749" width="1" height="25" fill="#c0c0c0"/>
<rect x="623" y="749" width="1" height="26" fill="#c0c0c0"/>
<rect x="631" y="749" width="1" height="29" fill="#c0c0c0"/>
<rect x="639" y="749" width="1" height="38" fill="#c0c0c0"/>
<rect x="647" y="749" width="1" height="43" fill="#c0c0c0"/>
<rect x="655" y="749" width="1" height="49" fill="#c0c0c0"/>
<rect x="663" y="749" width="1" height="52" fill="#c0c0c0"/>
<rect x="671" y="749" width="1" height="49" fill="#c0c0c0"/>
<rect x="679" y="749" width="1" height="46" fill="#c0c0c0"/>
<rect x="687" y="749" width="1" height="44" fill="#c0c0c0"/>
<rect x="695" y="749" width="1" height="42" fill="#c0c0c0"/>
<rect x="703" y="749" width="1" height="38" fill="#c0c0c0"/>
<rect x="711" y="749" width="1" height="34" fill="#c0c0c0"/>
<rect x="719" y="749" width="1" height="34" fill="#c0c0c0"/>
<rect x="727" y="749" width="1" height="29" fill="#c0c0c0"/>
<rect x="735" y="749" width="1" height="25" fill="#c0c0c0"/>
<rect x="743" y="749" width="1" height="19" fill="#c0c0c0"/>
<rect x="751" y="749" width="1" height="22" fill="#c0c0c0"/>
<rect x="759" y="749" width="1" height="17" fill="#c0c0c0"/>
<rect x="767" y="749" width="1" height="18" fill="#c0c0c0"/>
<rect x="775" y="749" width="1" height="16" fill="#c0c0c0"/>
<rect x="783" y="749" width="1" height="18" fill="#c0c0c0"/>
<rect x="791" y="749" width="1" height="18" fill="#c0c0c0"/>
<rect x="799" y="749" width="1" height="21" fill="#c0c0c0"/>
<rect x="807" y="749" width="1" height="21" fill="#c0c0c0"/>
<rect x="815" y="749" width="1" height="26" fill="#c0c0c0"/>
<rect x="823" y="749" width="1" height="32" fill="#c0c0c0"/>
<rect x="831" y="749" width="1" height="35" fill="#c0c0c0"/>
<rect x="839" y="749" width="1" height="37" fill="#c0c0c0"/>
<rect x="847" y="749" width="1" height="42" fill="#c0c0c0"/>
<rect x="855" y="749" width="1" height="42" fill="#c0c0c0"/>
<rect x="863" y="749" width="1" height="39" fill="#c0c0c0"/>
<rect x="871" y="749" width="1" height="35" fill="#c0c0c0"/>
<rect x="879" y="749" width="1" height="31" fill="#c0c0c0"/>
<rect x="887" y="749" width="1" height="28" fill="#c0c0c0"/>
<rect x="895" y="749" width="1" height="26" fill="#c0c0c0"/>
<rect x="903" y="749" width="1" height="25" fill="#c0c0c0"/>
<rect x="911" y="749" width="1" height="22" fill="#c0c0c0"/>
<rect x="919" y="749" width="1" height="17" fill="#c0c0c0"/>
<rect x="927" y="749" width="1" height="10" fill="#c0c0c0"/>
<rect x="935" y="749" width="1" height="6" fill="#c0c0c0"/>
<rect x="943" y="749" width="1" height="3" fill="#c0c0c0"/>
<rect x="951" y="748" width="1" height="2" fill="#c0c0c0"/>
<rect x="959" y="743" width="1" height="7" fill="#c0c0c0"/>
<rect x="967" y="734" width="1" height="16" fill="#c0c0c0"/>
<rect x="975" y="723" width="1" height="27" fill="#c0c0c0"/>
<rect x="983" y="716" width="1" height="34" fill="#c0c0c0"/>
<rect x="991" y="712" width="1" height="38" fill="#c0c0c0"/>
<rect x="999" y="710" width="1" height="40" fill="#c0c0c0"/>
<rect x="1007" y="709" width="1" height="41" fill="#c0c0c0"/>
<rect x="1015" y="712" width="1" height="38" fill="#c0c0c0"/>
<rect x="1023" y="716" width="1" height="34" fill="#c0c0c0"/>
<rect x="1031" y="719" width="1" height="31" fill="#c0c0c0"/>
<rect x="1039" y="721" width="1" height="29" fill="#c0c0c0"/>
<rect x="1047" y="721" width="1" height="29" fill="#c0c0c0"/>
<rect x="1055" y="719" width="1" height="31" fill="#c0c0c0"/>
<rect x="1063" y="716" width="1" height="34" fill="#c0c0c0"/>
<rect x="1071" y="714" width="1" height="36" fill="#c0c0c0"/>
<rect x="1079" y="713" width="1" height="37" fill="#c0c0c0"/>
<rect x="1087" y="716" width="1" height="34" fill="#c0c0c0"/>
<rect x="1095" y="723" width="1" height="27" fill="#c0c0c0"/>
<rect x="1103" y="729" width="1" height="21" fill="#c0c0c0"/>
<rect x="1111" y="736" width="1" height="14" fill="#c0c0c0"/>
<rect x="1119" y="744" width="1" height="6" fill="#c0c0c0"/>
<rect x="1127" y="749" width="1" height="1" fill="#c0c0c0"/>
<rect x="1135" y="749" width="1" height="5" fill="#c0c0c0"/>
<rect x="1143" y="749" width="1" height="10" fill="#c0c0c0"/>
<rect x="1151" y="749" width="1" height="14" fill="#c0c0c0"/>
<rect x="1159" y="749" width="1" height="16" fill="#c0c0c0"/>
<rect x="1167" y="749" width="1" height="15" fill="#c0c0c0"/>
<rect x="1175" y="749" width="1" height="13" fill="#c0c0c0"/>
<rect x="1183" y="749" width="1" height="10" fill="#c0c0c0"/>
<rect x="1191" y="749" width="1" height="8" fill="#c0c0c0"/>
<rect x="1199" y="749" width="1" height="5" fill="#c0c0c0"/>
<rect x="1207" y="749" width="1" height="5" fill="#c0c0c0"/>
<rect x="1215" y="749" width="1" height="8" fill="#c0c0c0"/>
<rect x="1223" y="749" width="1" height="10" fill="#c0c0c0"/>
<rect x="1231" y="749" width="1" height="13" fill="#c0c0c0"/>
<rect x="1239" y="749" width="1" height="14" fill="#c0c0c0"/>
<rect x="1247" y="749" width="1" height="16" fill="#c0c0c0"/>
<rect x="1255" y="749" width="1" height="17" fill="#c0c0c0"/>
<rect x="1263" y="749" width="1" height="17" fill="#c0c0c0"/>
<rect x="1271" y="749" width="1" height="17" fill="#c0c0c0"/>
<rect x="1279" y="749" width="1" height="11" fill="#c0c0c0"/>
<rect x="1287" y="749" width="1" height="7" fill="#c0c0c0"/>
<rect x="1295" y="749" width="1" height="3" fill="#c0c0c0"/>
<rect x="1303" y="747" width="1" height="3" fill="#c0c0c0"/>
<rect x="1311" y="742" width="1" height="8" fill="#c0c0c0"/>
<polyline points="7.5,762.8 15.5,762.8 23.5,762.8 31.5,761.0 39.5,759.2 47.5,757.8 55.5,756.5 63.5,753.0 71.5,748.5 79.5,743.4 87.5,737.9 95.5,732.7 103.5,728.4 111.5,725.8 119.5,724.1 127.5,723.6 135.5,724.9 143.5,727.0 151.5,729.1 159.5,730.6 167.5,731.1 175.5,730.6 183.5,728.8 191.5,726.2 199.5,723.0 207.5,719.0 215.5,715.1 223.5,712.5 231.5,711.6 239.5,712.3 247.5,714.4 255.5,717.8 263.5,722.3 271.5,727.7 279.5,733.8 287.5,739.8 295.5,744.9 303.5,749.2 311.5,752.7 319.5,755.7 327.5,758.0 335.5,759.8 343.5,760.6 351.5,761.0 359.5,761.6 367.5,762.3 375.5,763.9 383.5,766.3 391.5,769.1 399.5,771.8 407.5,774.7 415.5,777.8 423.5,780.6 431.5,783.8 439.5,787.1 447.5,789.7 455.5,791.6 463.5,791.7 471.5,790.5 479.5,788.4 487.5,785.8 495.5,783.0 503.5,779.0 511.5,774.3 519.5,769.7 527.5,765.5 535.5,763.3 543.5,762.5 551.5,762.8 559.5,763.9 567.5,765.7 575.5,768.0 583.5,770.9 591.5,773.3 599.5,774.8 607.5,775.9 615.5,776.4 623.5,776.6 631.5,776.7 639.5,777.6 647.5,779.0 655.5,780.9 663.5,783.7 671.5,786.6 679.5,789.1 687.5,791.2 695.5,793.0 703.5,794.0 711.5,793.6 719.5,792.5 727.5,790.3 735.5,787.2 743.5,783.9 751.5,781.2 759.5,778.3 767.5,775.6 775.5,773.2 783.5,771.5 791.5,769.8 799.5,768.8 807.5,768.4 815.5,769.1 823.5,770.2 831.5,772.2 839.5,774.3 847.5,777.1 855.5,779.8 863.5,782.1 871.5,783.7 879.5,784.9 887.5,785.1 895.5,784.4 903.5,783.3 911.5,781.7 919.5,778.9 927.5,775.4 935.5,771.7 943.5,768.1 951.5,764.6 959.5,760.8 967.5,756.2 975.5,750.6 983.5,744.5 991.5,738.5 999.5,733.1 1007.5,728.0 1015.5,723.6 1023.5,720.0 1031.5,717.4 1039.5,716.0 1047.5,715.7 1055.5,716.0 1063.5,716.5 1071.5,716.9 1079.5,717.3 1087.5,717.8 1095.5,718.5 1103.5,719.6 1111.5,721.3 1119.5,723.8 1127.5,727.3 1135.5,731.4 1143.5,736.4 1151.5,741.9 1159.5,747.4 1167.5,752.0 1175.5,755.6 1183.5,758.2 1191.5,759.7 1199.5,760.1 1207.5,760.1 1215.5,759.9 1223.5,759.5 1231.5,759.2 1239.5,759.1 1247.5,759.4 1255.5,760.2 1263.5,761.2 1271.5,762.5 1279.5,763.2 1287.5,763.1 1295.5,762.2 1303.5,760.5 1311.5,758.2" fill="none" stroke="#ff0000" stroke-dasharray="3,3"/>
<polygon points="7,801 7,806 12,806" fill="#c0c0c0"/>
</g>
<g shape-rendering="crispEdges" fill="#000">
<rect x="1654" y="47" width="2" height="1"/>
<rect x="1654" y="80" width="2" height="1"/>
<rect x="1654" y="113" width="2" height="1"/>
<rect x="1654" y="146" width="2" height="1"/>
<rect x="1654" y="179" width="2" height="1"/>
<rect x="1654" y="212" width="2" height="1"/>
<rect x="1654" y="245" width="2" height="1"/>
<rect x="1654" y="278" width="2" height="1"/>
<rect x="1654" y="311" width="2" height="1"/>
<rect x="1654" y="377" width="2" height="1"/>
<rect x="1654" y="410" width="2" height="1"/>
<rect x="1654" y="443" width="2" height="1"/>
<rect x="1654" y="476" width="2" height="1"/>
<rect x="1654" y="509" width="2" height="1"/>
<rect x="1654" y="542" width="2" height="1"/>
<rect x="1654" y="575" width="2" height="1"/>
<rect x="1654" y="581" width="2" height="1"/>
<rect x="1654" y="616" width="2" height="1"/>
<rect x="1654" y="661" width="2" height="1"/>
<rect x="1654" y="749" width="2" height="1"/>
<rect x="7" y="807" width="1" height="3"/>
<rect x="71" y="807" width="1" height="3"/>
<rect x="135" y="807" width="1" height="3"/>
<rect x="199" y="807" width="1" height="3"/>
<rect x="263" y="807" width="1" height="3"/>
<rect x="327" y="807" width="1" height="3"/>
<rect x="391" y="807" width="1" height="3"/>
<rect x="455" y="807" width="1" height="3"/>
<rect x="519" y="807" width="1" height="3"/>
<rect x="583" y="807" width="1" height="3"/>
<rect x="647" y="807" width="1" height="3"/>
<rect x="711" y="807" width="1" height="3"/>
<rect x="775" y="807" width="1" height="3"/>
<rect x="839" y="807" width="1" height="3"/>
<rect x="903" y="807" width="1" height="3"/>
<rect x="967" y="807" width="1" height="3"/>
<rect x="1031" y="807" width="1" height="3"/>
<rect x="1095" y="807" width="1" height="3"/>
<rect x="1159" y="807" width="1" height="3"/>
<rect x="1223" y="807" width="1" height="3"/>
<rect x="1287" y="807" width="1" height="3"/>
</g>
<g font-size="10px" fill="#000">
<text x="1659" y="51" textLength="32.5" lengthAdjust="spacingAndGlyphs">1.14160</text>
<text x="1659" y="84" textLength="32.5" lengthAdjust="spacingAndGlyphs">1.13810</text>
<text x="1659" y="117" textLength="32.5" lengthAdjust="spacingAndGlyphs">1.13470</text>
<text x="1659" y="150" textLength="32.5" lengthAdjust="spacingAndGlyphs">1.13130</text>
<text x="1659" y="183" textLength="32.5" lengthAdjust="spacingAndGlyphs">1.12780</text>
<text x="1659" y="216" textLength="32.5" lengthAdjust="spacingAndGlyphs">1.12440</text>
<text x="1659" y="249" textLength="32.5" lengthAdjust="spacingAndGlyphs">1.12100</text>
<text x="1659" y="282" textLength="32.5" lengthAdjust="spacingAndGlyphs">1.11750</text>
<text x="1659" y="315" textLength="32.5" lengthAdjust="spacingAndGlyphs">1.11410</text>
<text x="1659" y="381" textLength="32.5" lengthAdjust="spacingAndGlyphs">1.10720</text>
<text x="1659" y="414" textLength="32.5" lengthAdjust="spacingAndGlyphs">1.10380</text>
<text x="1659" y="447" textLength="32.5" lengthAdjust="spacingAndGlyphs">1.10040</text>
<text x="1659" y="480" textLength="32.5" lengthAdjust="spacingAndGlyphs">1.09700</text>
<text x="1659" y="513" textLength="32.5" lengthAdjust="spacingAndGlyphs">1.09350</text>
<text x="1659" y="546" textLength="32.5" lengthAdjust="spacingAndGlyphs">1.09010</text>
<text x="1659" y="579" textLength="32.5" lengthAdjust="spacingAndGlyphs">1.08670</text>
<text x="6" y="819" textLength="54.7" lengthAdjust="spacingAndGlyphs">30 May 2019</text>
<text x="70" y="819" textLength="44.9" lengthAdjust="spacingAndGlyphs">9 Jun 2019</text>
<text x="134" y="819" textLength="49.1" lengthAdjust="spacingAndGlyphs">18 Jun 2019</text>
<text x="198" y="819" textLength="49.5" lengthAdjust="spacingAndGlyphs">27 Jun 2019</text>
<text x="262" y="819" textLength="41.3" lengthAdjust="spacingAndGlyphs">7 Jul 2019</text>
<text x="326" y="819" textLength="46.2" lengthAdjust="spacingAndGlyphs">16 Jul 2019</text>
<text x="390" y="819" textLength="46.2" lengthAdjust="spacingAndGlyphs">25 Jul 2019</text>
<text x="454" y="819" textLength="47.9" lengthAdjust="spacingAndGlyphs">4 Aug 2019</text>
<text x="518" y="819" textLength="52.8" lengthAdjust="spacingAndGlyphs">13 Aug 2019</text>
<text x="582" y="819" textLength="52.8" lengthAdjust="spacingAndGlyphs">22 Aug 2019</text>
<text x="646" y="819" textLength="46.2" lengthAdjust="spacingAndGlyphs">1 Sep 2019</text>
<text x="710" y="819" textLength="50.9" lengthAdjust="spacingAndGlyphs">10 Sep 2019</text>
<text x="774" y="819" textLength="50.9" lengthAdjust="spacingAndGlyphs">19 Sep 2019</text>
<text x="838" y="819" textLength="50.9" lengthAdjust="spacingAndGlyphs">29 Sep 2019</text>
<text x="902" y="819" textLength="45.6" lengthAdjust="spacingAndGlyphs">8 Oct 2019</text>
<text x="966" y="819" textLength="50.2" lengthAdjust="spacingAndGlyphs">17 Oct 2019</text>
<text x="1030" y="819" textLength="50.5" lengthAdjust="spacingAndGlyphs">27 Oct 2019</text>
<text x="1094" y="819" textLength="48.7" lengthAdjust="spacingAndGlyphs">5 Nov 2019</text>
<text x="1158" y="819" textLength="53.2" lengthAdjust="spacingAndGlyphs">14 Nov 2019</text>
<text x="1222" y="819" textLength="53.4" lengthAdjust="spacingAndGlyphs">24 Nov 2019</text>
<text x="1286" y="819" textLength="46.4" lengthAdjust="spacingAndGlyphs">3 Dec 2019</text>
<text x="1657.5" y="591" textLength="14.5" lengthAdjust="spacingAndGlyphs">100</text>
<text x="1657.5" y="620" textLength="9.2" lengthAdjust="spacingAndGlyphs">70</text>
<text x="1657.5" y="665" textLength="9.2" lengthAdjust="spacingAndGlyphs">30</text>
<text x="1657.5" y="693" textLength="4.6" lengthAdjust="spacingAndGlyphs">0</text>
<text x="1657" y="710" textLength="37.5" lengthAdjust="spacingAndGlyphs">0.004536</text>
<text x="1657" y="753" textLength="17" lengthAdjust="spacingAndGlyphs">0.00</text>
<text x="1657" y="805" textLength="41.5" lengthAdjust="spacingAndGlyphs">-0.005205</text>
</g>
<g shape-rendering="crispEdges">
<rect x="1655" y="257" width="40" height="11" fill="#ff0000"/>
<rect x="1655" y="338" width="40" height="11" fill="#000000"/>
<rect x="1655" y="344" width="40" height="11" fill="#ff0000"/>
<rect x="1655" y="431" width="40" height="11" fill="#00ff00"/>
<rect x="1655" y="555" width="40" height="11" fill="#0000ff"/>
</g>
<g font-size="10px" fill="#fff">
<text x="1659.5" y="266" textLength="32.5" lengthAdjust="spacingAndGlyphs">1.11910</text>
<svg x="1655" y="338" width="40" height="6"><text x="4.5" y="9" textLength="32.5" lengthAdjust="spacingAndGlyphs" fill="#fff">1.11075</text></svg>
<text x="1659.5" y="353" textLength="32.5" lengthAdjust="spacingAndGlyphs">1.11007</text>
<text x="1659.5" y="440" textLength="32.5" lengthAdjust="spacingAndGlyphs">1.10104</text>
<text x="1659.5" y="564" textLength="32.5" lengthAdjust="spacingAndGlyphs">1.08816</text>
</g>
<polygon points="10,31 17,31 13.5,35" fill="#000"/>
<text x="22.5" y="35.5" font-size="9.3px" fill="#000" textLength="65.5" lengthAdjust="spacingAndGlyphs">EURUSD-,Daily</text>
<text x="96" y="35.5" font-size="9.3px" fill="#000" textLength="139.5" lengthAdjust="spacingAndGlyphs">1.11033 1.11081 1.11022 1.11075</text>
<text x="11" y="593" font-size="9.3px" fill="#000">RSI(14) 63.3172</text>
<text x="11" y="711" font-size="9.3px" fill="#000">MACD(12,26,9) 0.000663 -0.000745</text>
<g shape-rendering="crispEdges">
<defs><pattern id="dith" width="2" height="2" patternUnits="userSpaceOnUse"><rect width="2" height="2" fill="#d4d0c8"/><rect width="1" height="1" fill="#fff"/><rect x="1" y="1" width="1" height="1" fill="#fff"/></pattern></defs>
<rect x="259" y="0" width="26" height="19" fill="#fff"/>
<rect x="259" y="0" width="1" height="18" fill="#808080"/>
<rect x="260" y="0" width="24" height="18" fill="url(#dith)"/>
<rect x="81" y="0" width="1" height="20" fill="#808080"/>
<rect x="82" y="0" width="1" height="20" fill="#fff"/>
<rect x="342" y="0" width="1" height="20" fill="#808080"/>
<rect x="343" y="0" width="1" height="20" fill="#fff"/>
<rect x="85" y="0" width="3" height="1" fill="#808080"/>
<rect x="85" y="2" width="3" height="1" fill="#808080"/>
<rect x="85" y="4" width="3" height="1" fill="#808080"/>
<rect x="85" y="6" width="3" height="1" fill="#808080"/>
<rect x="85" y="8" width="3" height="1" fill="#808080"/>
<rect x="85" y="10" width="3" height="1" fill="#808080"/>
<rect x="85" y="12" width="3" height="1" fill="#808080"/>
<rect x="85" y="14" width="3" height="1" fill="#808080"/>
<rect x="85" y="16" width="3" height="1" fill="#808080"/>
<rect x="26" y="2" width="1" height="1" fill="#505050"/>
<rect x="26" y="14" width="1" height="1" fill="#505050"/>
<rect x="28" y="2" width="1" height="1" fill="#505050"/>
<rect x="28" y="14" width="1" height="1" fill="#505050"/>
<rect x="30" y="2" width="1" height="1" fill="#505050"/>
<rect x="30" y="14" width="1" height="1" fill="#505050"/>
<rect x="32" y="2" width="1" height="1" fill="#505050"/>
<rect x="32" y="14" width="1" height="1" fill="#505050"/>
<rect x="34" y="2" width="1" height="1" fill="#505050"/>
<rect x="34" y="14" width="1" height="1" fill="#505050"/>
<rect x="36" y="2" width="1" height="1" fill="#505050"/>
<rect x="36" y="14" width="1" height="1" fill="#505050"/>
<rect x="26" y="2" width="1" height="1" fill="#505050"/>
<rect x="37" y="2" width="1" height="1" fill="#505050"/>
<rect x="26" y="4" width="1" height="1" fill="#505050"/>
<rect x="37" y="4" width="1" height="1" fill="#505050"/>
<rect x="26" y="6" width="1" height="1" fill="#505050"/>
<rect x="37" y="6" width="1" height="1" fill="#505050"/>
<rect x="26" y="8" width="1" height="1" fill="#505050"/>
<rect x="37" y="8" width="1" height="1" fill="#505050"/>
<rect x="26" y="10" width="1" height="1" fill="#505050"/>
<rect x="37" y="10" width="1" height="1" fill="#505050"/>
<rect x="26" y="12" width="1" height="1" fill="#505050"/>
<rect x="37" y="12" width="1" height="1" fill="#505050"/>
<rect x="26" y="14" width="1" height="1" fill="#505050"/>
<rect x="37" y="14" width="1" height="1" fill="#505050"/>
<rect x="25" y="1" width="2" height="1" fill="#505050"/>
<rect x="28" y="5" width="8" height="1" fill="#505050"/>
<rect x="31" y="5" width="2" height="8" fill="#505050"/>
</g>
<polygon points="53,5 56.5,1.5 60,5 56.5,7" fill="#505050"/>
<polygon points="60,12 63.5,10 67,12 63.5,15.5" fill="#505050"/>
<polyline points="55,9 57.5,11.5 62,6.5" fill="none" stroke="#505050" stroke-width="1.6"/>
<polygon points="69.5,7 75,7 72.25,10" fill="#000"/>
<text x="-1.8" y="13" font-size="12.5px" fill="#505050" stroke="#505050" stroke-width="0.3">A</text>
<g font-size="9.6px" fill="#383838">
<text x="96.5" y="12" textLength="12.9" lengthAdjust="spacingAndGlyphs">M1</text>
<text x="124.3" y="12" textLength="13.2" lengthAdjust="spacingAndGlyphs">M5</text>
<text x="150.7" y="12" textLength="17.6" lengthAdjust="spacingAndGlyphs">M15</text>
<text x="178.5" y="12" textLength="17.9" lengthAdjust="spacingAndGlyphs">M30</text>
<text x="209.3" y="12" textLength="12.2" lengthAdjust="spacingAndGlyphs">H1</text>
<text x="236.5" y="12" textLength="13.1" lengthAdjust="spacingAndGlyphs">H4</text>
<text x="265.9" y="12" textLength="10.9" lengthAdjust="spacingAndGlyphs">D1</text>
<text x="293" y="12" textLength="14.6" lengthAdjust="spacingAndGlyphs">W1</text>
<text x="320" y="12" textLength="14.0" lengthAdjust="spacingAndGlyphs">MN</text>
</g>
<text transform="translate(19 841) scale(1 1.28)" font-size="9.4px" fill="#303030" style="font-family:'Liberation Mono',monospace">AUDUSD-, Daily</text>
<text transform="translate(119 841) scale(1 1.28)" font-size="9.4px" fill="#303030" style="font-family:'Liberation Mono',monospace">USDCAD-, Daily</text>
<text transform="translate(219 841) scale(1 1.28)" font-size="9.4px" fill="#303030" style="font-family:'Liberation Mono',monospace">USDCNH-, Daily</text>
<text transform="translate(319 841) scale(1 1.28)" font-size="9.4px" fill="#000" style="font-family:'Liberation Mono',monospace">EURUSD-, Daily</text>
<text transform="translate(419 841) scale(1 1.28)" font-size="9.4px" fill="#303030" style="font-family:'Liberation Mono',monospace">USDCHF-, Daily</text>
</svg></div></body></html>
